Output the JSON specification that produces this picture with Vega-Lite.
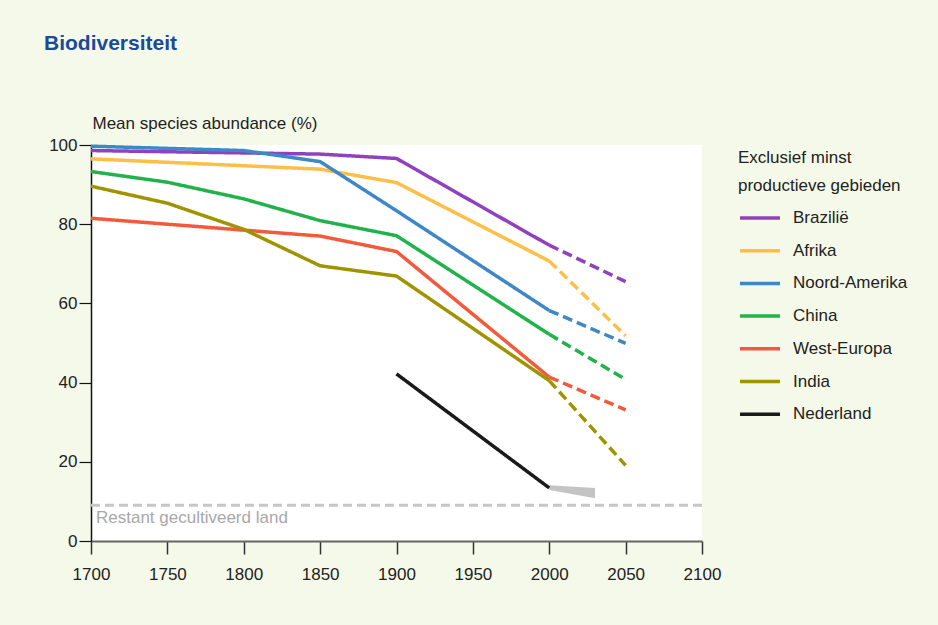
{
  "$schema": "https://vega.github.io/schema/vega-lite/v6.json",
  "autosize": {"type": "none"},
  "width": 611,
  "height": 396,
  "padding": {"left": 91, "top": 145, "right": 236, "bottom": 84},
  "background": "#f5f9e9",
  "title": {
    "text": "Biodiversiteit",
    "anchor": "start",
    "frame": "group",
    "dx": -47,
    "offset": 43,
    "baseline": "alphabetic",
    "font": "Liberation Sans",
    "fontSize": 21,
    "fontWeight": "bold",
    "color": "#1a4a98"
  },
  "config": {
    "view": {"fill": "white", "stroke": null},
    "font": "Liberation Sans",
    "axis": {"grid": false, "labelFont": "Liberation Sans", "titleFont": "Liberation Sans", "labelColor": "#222", "titleColor": "#222"},
    "legend": {"labelFont": "Liberation Sans", "titleFont": "Liberation Sans"}
  },
  "datasets": {
    "series": [
      {"country": "Brazilië", "seg": "hist", "year": 1700, "value": 98.6},
      {"country": "Brazilië", "seg": "hist", "year": 1850, "value": 97.7},
      {"country": "Brazilië", "seg": "hist", "year": 1900, "value": 96.6},
      {"country": "Brazilië", "seg": "hist", "year": 2000, "value": 74.7},
      {"country": "Brazilië", "seg": "proj", "year": 2000, "value": 74.7},
      {"country": "Brazilië", "seg": "proj", "year": 2050, "value": 65.5},
      {"country": "Afrika", "seg": "hist", "year": 1700, "value": 96.5},
      {"country": "Afrika", "seg": "hist", "year": 1850, "value": 93.9},
      {"country": "Afrika", "seg": "hist", "year": 1900, "value": 90.5},
      {"country": "Afrika", "seg": "hist", "year": 2000, "value": 70.7},
      {"country": "Afrika", "seg": "proj", "year": 2000, "value": 70.7},
      {"country": "Afrika", "seg": "proj", "year": 2050, "value": 51.8},
      {"country": "Noord-Amerika", "seg": "hist", "year": 1700, "value": 99.7},
      {"country": "Noord-Amerika", "seg": "hist", "year": 1800, "value": 98.6},
      {"country": "Noord-Amerika", "seg": "hist", "year": 1850, "value": 95.8},
      {"country": "Noord-Amerika", "seg": "hist", "year": 1900, "value": 83.4},
      {"country": "Noord-Amerika", "seg": "hist", "year": 2000, "value": 58.2},
      {"country": "Noord-Amerika", "seg": "proj", "year": 2000, "value": 58.2},
      {"country": "Noord-Amerika", "seg": "proj", "year": 2050, "value": 49.9},
      {"country": "China", "seg": "hist", "year": 1700, "value": 93.3},
      {"country": "China", "seg": "hist", "year": 1750, "value": 90.6},
      {"country": "China", "seg": "hist", "year": 1800, "value": 86.4},
      {"country": "China", "seg": "hist", "year": 1850, "value": 80.9},
      {"country": "China", "seg": "hist", "year": 1900, "value": 77.1},
      {"country": "China", "seg": "hist", "year": 2000, "value": 52.2},
      {"country": "China", "seg": "proj", "year": 2000, "value": 52.2},
      {"country": "China", "seg": "proj", "year": 2050, "value": 40.8},
      {"country": "West-Europa", "seg": "hist", "year": 1700, "value": 81.5},
      {"country": "West-Europa", "seg": "hist", "year": 1750, "value": 80.0},
      {"country": "West-Europa", "seg": "hist", "year": 1800, "value": 78.5},
      {"country": "West-Europa", "seg": "hist", "year": 1850, "value": 77.0},
      {"country": "West-Europa", "seg": "hist", "year": 1900, "value": 73.1},
      {"country": "West-Europa", "seg": "hist", "year": 2000, "value": 41.4},
      {"country": "West-Europa", "seg": "proj", "year": 2000, "value": 41.4},
      {"country": "West-Europa", "seg": "proj", "year": 2050, "value": 33.1},
      {"country": "India", "seg": "hist", "year": 1700, "value": 89.6},
      {"country": "India", "seg": "hist", "year": 1750, "value": 85.3},
      {"country": "India", "seg": "hist", "year": 1800, "value": 78.7},
      {"country": "India", "seg": "hist", "year": 1850, "value": 69.5},
      {"country": "India", "seg": "hist", "year": 1900, "value": 66.9},
      {"country": "India", "seg": "hist", "year": 2000, "value": 40.5},
      {"country": "India", "seg": "proj", "year": 2000, "value": 40.5},
      {"country": "India", "seg": "proj", "year": 2050, "value": 19.1},
      {"country": "Nederland", "seg": "hist", "year": 1900, "value": 42.2},
      {"country": "Nederland", "seg": "hist", "year": 1950, "value": 27.8},
      {"country": "Nederland", "seg": "hist", "year": 2000, "value": 13.4}
    ],
    "wedge": [
      {"year": 2000, "lo": 12.9, "hi": 14.1},
      {"year": 2030, "lo": 10.8, "hi": 13.4}
    ],
    "baseline": [
      {"year": 1700, "value": 9, "label": "Restant gecultiveerd land"}
    ]
  },
  "layer": [
    {
      "data": {"name": "baseline"},
      "mark": {"type": "rule", "color": "#c6c6c6", "strokeWidth": 3, "strokeDash": [9, 5]},
      "encoding": {"y": {"field": "value", "type": "quantitative"}}
    },
    {
      "data": {"name": "baseline"},
      "mark": {"type": "text", "align": "left", "baseline": "top", "dx": 5, "dy": 5, "fontSize": 17, "color": "#a8a8a8", "font": "Liberation Sans"},
      "encoding": {
        "x": {"field": "year", "type": "quantitative"},
        "y": {"field": "value", "type": "quantitative"},
        "text": {"field": "label"}
      }
    },
    {
      "data": {"name": "wedge"},
      "mark": {"type": "area", "color": "#c4c4c4", "opacity": 1},
      "encoding": {
        "x": {"field": "year", "type": "quantitative"},
        "y": {"field": "lo", "type": "quantitative"},
        "y2": {"field": "hi"}
      }
    },
    {
      "data": {"name": "series"},
      "mark": {"type": "line", "strokeCap": "butt"},
      "encoding": {
        "x": {
          "field": "year", "type": "quantitative",
          "scale": {"domain": [1700, 2100], "nice": false, "zero": false},
          "axis": {
            "title": null, "values": [1700, 1750, 1800, 1850, 1900, 1950, 2000, 2050, 2100],
            "format": "d", "labelFontSize": 17, "labelPadding": 12, "tickSize": 13,
            "domainColor": "#666", "domainWidth": 2, "tickColor": "#333", "tickWidth": 1.5, "labelFlush": false
          }
        },
        "y": {
          "field": "value", "type": "quantitative",
          "scale": {"domain": [0, 100], "nice": false},
          "axis": {
            "title": "Mean species abundance (%)",
            "titleAngle": 0, "titleAlign": "left", "titleBaseline": "alphabetic",
            "titleX": 1, "titleY": -17, "titleFontSize": 17, "titleFontWeight": "normal",
            "values": [0, 10, 20, 30, 40, 50, 60, 70, 80, 90, 100],
            "labelExpr": "datum.value % 20 == 0 ? datum.label : ''",
            "labelFontSize": 17, "labelPadding": 2, "tickSize": 12,
            "domainColor": "#111", "domainWidth": 1.5, "tickColor": "#111", "tickWidth": 1.2
          }
        },
        "color": {
          "field": "country", "type": "nominal",
          "scale": {
            "domain": ["Brazilië", "Afrika", "Noord-Amerika", "China", "West-Europa", "India", "Nederland"],
            "range": ["#9041bd", "#ffbf47", "#3f88c8", "#22b24c", "#f15a3a", "#a09300", "#1a1a1a"]
          },
          "legend": {
            "title": ["Exclusief minst", "productieve gebieden"],
            "orient": "none", "legendX": 647, "legendY": 5,
            "titleFontSize": 17, "titleFontWeight": "normal", "titleColor": "#222", "titleLineHeight": 28,
            "titlePadding": 1,
            "labelFontSize": 17, "labelColor": "#222", "labelOffset": 11,
            "symbolType": "stroke", "symbolSize": 1600, "symbolStrokeWidth": 4,
            "rowPadding": 2.7
          }
        },
        "strokeWidth": {
          "field": "country", "type": "nominal",
          "scale": {
            "domain": ["Brazilië", "Afrika", "Noord-Amerika", "China", "West-Europa", "India", "Nederland"],
            "range": [3.5, 3.5, 3.5, 3.5, 3.5, 3.5, 5]
          },
          "legend": null
        },
        "strokeDash": {
          "field": "seg", "type": "nominal",
          "scale": {"domain": ["hist", "proj"], "range": [[1, 0], [10, 5]]},
          "legend": null
        }
      }
    }
  ]
}
